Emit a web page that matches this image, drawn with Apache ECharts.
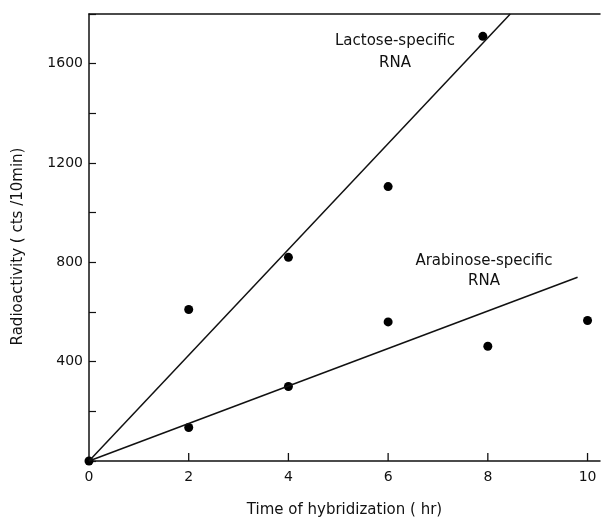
<!DOCTYPE html>
<html>
<head>
<meta charset="utf-8">
<script src="https://cdn.jsdelivr.net/npm/echarts@6/dist/echarts.min.js"></script>
<style>
  html, body { margin: 0; padding: 0; background: #fff; }
  #chart { width: 604px; height: 519px; }
</style>
</head>
<body>
<div id="chart"></div>
<script>
// measured points (time in hr, cts/10min)
const lactoseTime = [0, 2, 4, 6, 7.9];
const lactoseCounts = [0, 610, 820, 1105, 1710];
const arabinoseTime = [2, 4, 6, 8, 10];
const arabinoseCounts = [135, 300, 560, 462, 566];

// fitted lines drawn through the origin
const lactoseFitTime = [0, 8.45];
const lactoseFitCounts = [0, 1800];
const arabinoseFitTime = [0, 9.8];
const arabinoseFitCounts = [0, 740];

const xTicks = [0, 2, 4, 6, 8, 10];

const font = 'DejaVu Sans';
const ink = '#111';

function pairs(xs, ys) {
    return xs.map((x, i) => [x, ys[i]]);
}

const chart = echarts.init(document.getElementById('chart'));

const option = {
    animation: false,
    grid: { left: 89, right: 4, top: 14, bottom: 58, outerBoundsMode: 'none' },
    xAxis: [
        {
            type: 'value',
            min: 0,
            max: 10.25,
            interval: 2,
            name: 'Time of hybridization ( hr)',
            nameLocation: 'middle',
            nameGap: 42,
            nameTextStyle: { fontFamily: font, fontSize: 15, color: ink },
            axisLine: { show: true, onZero: false, lineStyle: { color: ink, width: 1.5 } },
            axisTick: { show: false },
            axisLabel: {
                fontFamily: font, fontSize: 14, color: ink, margin: 9,
                formatter: v => (xTicks.includes(v) ? String(v) : ''),
            },
            splitLine: { show: false },
        },
        {
            // top frame line
            type: 'value',
            position: 'top',
            min: 0,
            max: 10.25,
            axisLine: { show: true, onZero: false, lineStyle: { color: ink, width: 1.5 } },
            axisTick: { show: false },
            axisLabel: { show: false },
            splitLine: { show: false },
        },
    ],
    yAxis: {
        type: 'value',
        min: 0,
        max: 1800,
        interval: 200,
        name: 'Radioactivity ( cts /10min)',
        nameLocation: 'middle',
        nameGap: 63,
        nameTextStyle: { fontFamily: font, fontSize: 15, color: ink, padding: [0, 18, 0, 0] },
        axisLine: { show: true, onZero: false, lineStyle: { color: ink, width: 1.5 } },
        axisTick: { show: true, inside: true, length: 7, lineStyle: { color: ink, width: 1.2 } },
        axisLabel: {
            fontFamily: font, fontSize: 14, color: ink, margin: 6,
            formatter: v => (v > 0 && v % 400 === 0 ? String(v) : ''),
        },
        splitLine: { show: false },
    },
    series: [
        {
            // inward tick marks on the time axis
            name: 'x ticks',
            type: 'scatter',
            data: xTicks.filter(t => t > 0).map(t => [t, 0]),
            symbol: 'rect',
            symbolSize: [1.3, 8],
            symbolOffset: [0, -4],
            itemStyle: { color: ink, opacity: 1 },
            silent: true,
            z: 1,
        },
        {
            name: 'Lactose fit',
            type: 'line',
            data: pairs(lactoseFitTime, lactoseFitCounts),
            showSymbol: false,
            lineStyle: { color: ink, width: 1.5 },
            silent: true,
        },
        {
            name: 'Arabinose fit',
            type: 'line',
            data: pairs(arabinoseFitTime, arabinoseFitCounts),
            showSymbol: false,
            lineStyle: { color: ink, width: 1.5 },
            silent: true,
        },
        {
            name: 'Lactose-specific RNA',
            type: 'scatter',
            data: pairs(lactoseTime, lactoseCounts),
            symbolSize: 9,
            itemStyle: { color: '#000', opacity: 1 },
        },
        {
            name: 'Arabinose-specific RNA',
            type: 'scatter',
            data: pairs(arabinoseTime, arabinoseCounts),
            symbolSize: 9,
            itemStyle: { color: '#000', opacity: 1 },
        },
    ],
    graphic: [
        {
            type: 'text',
            x: 395, y: 30,
            style: {
                text: 'Lactose-specific\nRNA',
                font: `15px "${font}"`, fill: ink, lineHeight: 22, align: 'center',
            },
        },
        {
            type: 'text',
            x: 484, y: 251,
            style: {
                text: 'Arabinose-specific\nRNA',
                font: `15px "${font}"`, fill: ink, lineHeight: 20, align: 'center',
            },
        },
    ],
};

chart.setOption(option);
</script>
</body>
</html>
